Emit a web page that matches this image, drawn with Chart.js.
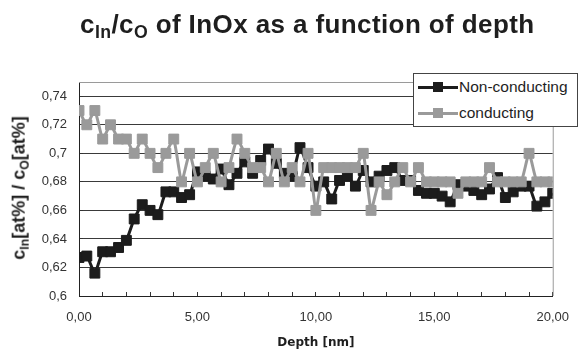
<!DOCTYPE html>
<html lang="en">
<head>
    <meta charset="UTF-8">
    <title>cIn/cO of InOx as a function of depth</title>
    <style>
        body {
            margin: 0;
            padding: 0;
            background-color: #ffffff;
            font-family: "Liberation Sans", Arial, sans-serif;
        }
        .container {
            position: relative;
            width: 587px;
            height: 356px;
            overflow: hidden;
        }
        canvas {
            position: absolute;
            left: 0;
            top: 0;
        }
        .title {
            position: absolute;
            left: 80px;
            top: 11px;
            font-size: 26px;
            line-height: 26px;
            letter-spacing: 0.4px;
            font-weight: bold;
            color: #1e1e1e;
            white-space: nowrap;
        }
        .title sub, .ylabel sub {
            font-size: 68%;
            vertical-align: -0.3em;
        }
        .ylabel {
            position: absolute;
            left: 20px;
            top: 188px;
            transform: translate(-50%, -50%) rotate(-90deg);
            font-size: 18px;
            font-weight: bold;
            color: #1e1e1e;
            white-space: nowrap;
        }
        .legend {
            position: absolute;
            left: 413px;
            top: 73px;
            width: 163px;
            height: 52px;
            border: 1px solid #444;
            background: #ffffff;
        }
        .legend .item {
            position: absolute;
            left: 4px;
            height: 20px;
            width: 160px;
        }
        .legend .line {
            position: absolute;
            left: 0;
            top: 9px;
            width: 40px;
            height: 3px;
        }
        .legend .box {
            position: absolute;
            left: 15px;
            top: 5px;
            width: 10px;
            height: 10px;
        }
        .legend .text {
            position: absolute;
            left: 41px;
            top: 1px;
            font-size: 15.5px;
            line-height: 18px;
            color: #1e1e1e;
        }
    </style>
    <script src="https://cdn.jsdelivr.net/npm/chart.js"></script>
</head>
<body>
    <div class="container">
        <canvas id="depthChart" width="587" height="356"></canvas>
        <div class="title">c<sub>In</sub>/c<sub>O</sub> of InOx as a function of depth</div>
        <div class="ylabel">c<sub>In</sub>[at%] / c<sub>O</sub>[at%]</div>
        <div class="legend">
            <div class="item" style="top:3px">
                <div class="line" style="background:#1c1c1c"></div>
                <div class="box" style="background:#1c1c1c"></div>
                <div class="text">Non-conducting</div>
            </div>
            <div class="item" style="top:29px">
                <div class="line" style="background:#9a9a9a"></div>
                <div class="box" style="background:#9a9a9a"></div>
                <div class="text">conducting</div>
            </div>
        </div>
    </div>

    <script>
        // depth in nm, one sample every third of a nanometre
        const depth = [
            0.00, 0.33, 0.67, 1.00, 1.33, 1.67, 2.00, 2.33, 2.67, 3.00,
            3.33, 3.67, 4.00, 4.33, 4.67, 5.00, 5.33, 5.67, 6.00, 6.33,
            6.67, 7.00, 7.33, 7.67, 8.00, 8.33, 8.67, 9.00, 9.33, 9.67,
            10.00, 10.33, 10.67, 11.00, 11.33, 11.67, 12.00, 12.33, 12.67, 13.00,
            13.33, 13.67, 14.00, 14.33, 14.67, 15.00, 15.33, 15.67, 16.00, 16.33,
            16.67, 17.00, 17.33, 17.67, 18.00, 18.33, 18.67, 19.00, 19.33, 19.67,
            20.00
        ];

        // cIn/cO ratio, non-conducting sample
        const nonConducting = [
            0.627, 0.628, 0.616, 0.631, 0.631, 0.634, 0.639, 0.654, 0.664, 0.660,
            0.657, 0.673, 0.673, 0.669, 0.671, 0.687, 0.684, 0.682, 0.689, 0.678,
            0.686, 0.694, 0.686, 0.695, 0.703, 0.693, 0.686, 0.684, 0.704, 0.690,
            0.677, 0.680, 0.668, 0.681, 0.684, 0.677, 0.688, 0.680, 0.684, 0.688,
            0.690, 0.681, 0.681, 0.674, 0.672, 0.672, 0.670, 0.666, 0.678, 0.677,
            0.674, 0.671, 0.675, 0.683, 0.669, 0.673, 0.677, 0.677, 0.663, 0.666,
            0.672
        ];

        // cIn/cO ratio, conducting sample
        const conducting = [
            0.730, 0.720, 0.730, 0.710, 0.720, 0.710, 0.710, 0.700, 0.710, 0.700,
            0.690, 0.700, 0.710, 0.680, 0.700, 0.680, 0.690, 0.700, 0.680, 0.690,
            0.710, 0.700, 0.690, 0.690, 0.680, 0.700, 0.680, 0.690, 0.680, 0.700,
            0.660, 0.690, 0.690, 0.690, 0.690, 0.690, 0.700, 0.660, 0.680, 0.671,
            0.680, 0.690, 0.680, 0.690, 0.680, 0.680, 0.680, 0.680, 0.672, 0.680,
            0.680, 0.680, 0.690, 0.680, 0.680, 0.680, 0.680, 0.700, 0.680, 0.680,
            0.680
        ];

        const xTicks = [0, 5, 10, 15, 20];
        const yTicks = [0.6, 0.62, 0.64, 0.66, 0.68, 0.7, 0.72, 0.74];

        const toPoints = values => values.map((v, i) => ({ x: depth[i], y: v }));
        const commaNum = s => String(s).replace('.', ',');

        // top and right edges of the plot area in light grey
        const frame = {
            id: 'frame',
            afterDraw(chart) {
                const { ctx, chartArea: a } = chart;
                ctx.save();
                ctx.strokeStyle = '#9a9a9a';
                ctx.lineWidth = 1;
                ctx.beginPath();
                ctx.moveTo(a.left, a.top + 0.5);
                ctx.lineTo(a.right + 0.5, a.top + 0.5);
                ctx.lineTo(a.right + 0.5, a.bottom);
                ctx.stroke();
                ctx.restore();
            }
        };

        const ctx = document.getElementById('depthChart').getContext('2d');
        new Chart(ctx, {
            type: 'line',
            data: {
                datasets: [{
                    label: 'Non-conducting',
                    data: toPoints(nonConducting),
                    borderColor: '#1c1c1c',
                    backgroundColor: '#1c1c1c',
                    borderWidth: 3,
                    pointStyle: 'rect',
                    pointRadius: 7,
                    pointBorderWidth: 1,
                    tension: 0.15,
                    order: 1
                }, {
                    label: 'conducting',
                    data: toPoints(conducting),
                    borderColor: '#9a9a9a',
                    backgroundColor: '#9a9a9a',
                    borderWidth: 3,
                    pointStyle: 'rect',
                    pointRadius: 7,
                    pointBorderWidth: 1,
                    tension: 0.15,
                    order: 0
                }]
            },
            options: {
                responsive: false,
                animation: false,
                layout: {
                    padding: { top: 82, right: 21, left: 0, bottom: 0 }
                },
                scales: {
                    x: {
                        type: 'linear',
                        min: 0,
                        max: 20,
                        afterFit: s => { s.height = 60; },
                        border: { color: '#222', width: 1 },
                        grid: {
                            drawOnChartArea: false,
                            drawTicks: true,
                            tickLength: -4,
                            tickColor: '#333'
                        },
                        ticks: {
                            stepSize: 1,
                            autoSkip: false,
                            maxRotation: 0,
                            padding: 18,
                            color: '#333',
                            font: { family: 'Liberation Sans', size: 13 },
                            callback: v => xTicks.includes(v) ? commaNum(v.toFixed(2)) : ''
                        },
                        title: {
                            display: true,
                            text: 'Depth [nm]',
                            color: '#1e1e1e',
                            font: { family: 'DejaVu Sans', size: 12, weight: 'bold' },
                            padding: { top: 0, bottom: 6 }
                        }
                    },
                    y: {
                        min: 0.6,
                        max: 0.75,
                        afterFit: s => { s.width = 79; },
                        border: { color: '#222', width: 1 },
                        grid: {
                            drawTicks: true,
                            tickLength: -4,
                            tickColor: '#333',
                            color: c => yTicks.some(t => Math.abs(t - c.tick.value) < 1e-6) ? '#3a3a3a' : 'rgba(0,0,0,0)'
                        },
                        ticks: {
                            stepSize: 0.01,
                            padding: 16,
                            color: '#333',
                            font: { family: 'Liberation Sans', size: 13 },
                            callback: v => {
                                const t = yTicks.find(t => Math.abs(t - v) < 1e-6);
                                return t === undefined ? '' : commaNum(t);
                            }
                        }
                    }
                },
                plugins: {
                    legend: { display: false },
                    title: { display: false },
                    tooltip: { enabled: false }
                }
            },
            plugins: [frame]
        });
    </script>
</body>
</html>
